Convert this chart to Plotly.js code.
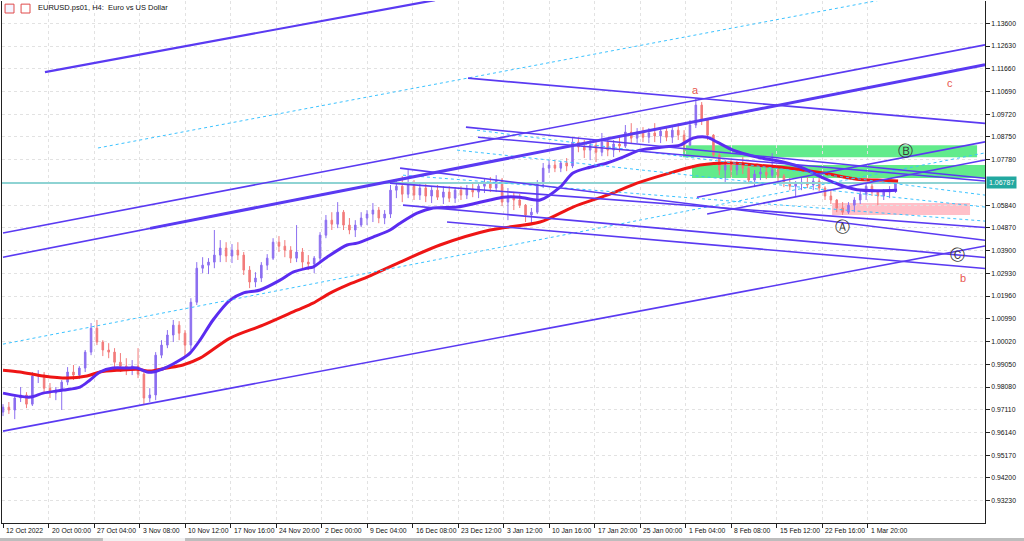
<!DOCTYPE html>
<html><head><meta charset="utf-8">
<script src="https://cdn.plot.ly/plotly-3.0.1.min.js"></script>
<style>html,body{margin:0;padding:0;background:#fff;overflow:hidden}#chart{width:1024px;height:541px}</style>
</head><body><div id="chart"></div>
<script>
// ---- data (EURUSD H4, bar index on x; one candle per 4 H4 bars) ----
const barsPerCandle = 4;
const openP = [0.9701,0.9722,0.9710,0.9761,0.9774,0.9735,0.9855,0.9859,0.9803,0.9782,0.9795,0.9829,0.9872,0.9859,0.9889,0.9957,1.0059,1.0000,0.9966,0.9957,0.9914,0.9897,0.9880,0.9897,0.9863,0.9761,0.9774,0.9944,0.9987,1.0030,1.0072,1.0038,0.9987,1.0170,1.0315,1.0328,1.0341,1.0371,1.0401,1.0367,1.0392,1.0371,1.0307,1.0256,1.0273,1.0328,1.0358,1.0426,1.0409,1.0392,1.0358,1.0384,1.0341,1.0333,1.0358,1.0456,1.0520,1.0503,1.0554,1.0499,1.0478,1.0499,1.0529,1.0546,1.0563,1.0529,1.0546,1.0648,1.0665,1.0631,1.0670,1.0627,1.0657,1.0623,1.0648,1.0618,1.0640,1.0614,1.0648,1.0627,1.0653,1.0640,1.0665,1.0678,1.0657,1.0691,1.0597,1.0623,1.0606,1.0584,1.0542,1.0554,1.0674,1.0742,1.0755,1.0742,1.0764,1.0751,1.0853,1.0832,1.0819,1.0840,1.0810,1.0853,1.0819,1.0845,1.0836,1.0896,1.0870,1.0896,1.0874,1.0892,1.0879,1.0900,1.0874,1.0904,1.0883,1.0840,1.0926,1.1011,1.0947,1.0883,1.0798,1.0734,1.0755,1.0734,1.0759,1.0742,1.0691,1.0717,1.0725,1.0712,1.0734,1.0708,1.0678,1.0665,1.0674,1.0682,1.0670,1.0687,1.0657,1.0623,1.0606,1.0572,1.0554,1.0584,1.0606,1.0631,1.0665,1.0640,1.0623,1.0640,1.0648];
const highP = [0.9735,0.9744,0.9769,0.9808,0.9786,0.9872,0.9880,0.9872,0.9825,0.9808,0.9838,0.9893,0.9902,0.9897,0.9966,1.0081,1.0094,1.0008,0.9995,0.9974,0.9953,0.9931,0.9923,0.9974,0.9872,0.9803,0.9957,1.0008,1.0051,1.0094,1.0089,1.0051,1.0187,1.0341,1.0362,1.0358,1.0478,1.0435,1.0426,1.0418,1.0426,1.0384,1.0324,1.0298,1.0341,1.0375,1.0443,1.0452,1.0435,1.0409,1.0499,1.0401,1.0371,1.0367,1.0469,1.0542,1.0554,1.0597,1.0563,1.0529,1.0520,1.0554,1.0563,1.0593,1.0576,1.0563,1.0670,1.0691,1.0708,1.0734,1.0691,1.0674,1.0674,1.0665,1.0670,1.0665,1.0665,1.0661,1.0665,1.0670,1.0678,1.0674,1.0700,1.0704,1.0712,1.0700,1.0657,1.0640,1.0631,1.0589,1.0572,1.0691,1.0764,1.0776,1.0776,1.0772,1.0785,1.0870,1.0874,1.0862,1.0862,1.0853,1.0892,1.0870,1.0862,1.0874,1.0926,1.0934,1.0913,1.0917,1.0913,1.0934,1.0917,1.0921,1.0917,1.0934,1.0904,1.0947,1.1041,1.1024,1.0956,1.0887,1.0806,1.0776,1.0776,1.0772,1.0789,1.0755,1.0734,1.0746,1.0751,1.0806,1.0742,1.0717,1.0700,1.0687,1.0700,1.0704,1.0700,1.0700,1.0665,1.0644,1.0610,1.0597,1.0597,1.0618,1.0648,1.0678,1.0691,1.0648,1.0653,1.0665,1.0687];
const lowP = [0.9684,0.9693,0.9671,0.9744,0.9718,0.9727,0.9825,0.9786,0.9761,0.9752,0.9710,0.9816,0.9838,0.9842,0.9872,0.9944,0.9987,0.9940,0.9931,0.9893,0.9872,0.9859,0.9859,0.9846,0.9731,0.9744,0.9752,0.9931,0.9974,1.0000,1.0008,0.9940,0.9966,1.0158,1.0294,1.0290,1.0315,1.0341,1.0341,1.0337,1.0350,1.0286,1.0230,1.0234,1.0256,1.0307,1.0350,1.0384,1.0362,1.0337,1.0341,1.0315,1.0307,1.0294,1.0341,1.0443,1.0478,1.0486,1.0478,1.0460,1.0448,1.0490,1.0499,1.0512,1.0507,1.0503,1.0529,1.0614,1.0597,1.0614,1.0606,1.0606,1.0597,1.0593,1.0606,1.0589,1.0597,1.0593,1.0606,1.0610,1.0618,1.0614,1.0636,1.0640,1.0640,1.0580,1.0520,1.0563,1.0572,1.0512,1.0499,1.0546,1.0657,1.0721,1.0725,1.0725,1.0729,1.0742,1.0810,1.0785,1.0776,1.0768,1.0793,1.0793,1.0789,1.0810,1.0828,1.0849,1.0849,1.0853,1.0849,1.0853,1.0849,1.0857,1.0849,1.0862,1.0810,1.0836,1.0913,1.0926,1.0862,1.0785,1.0712,1.0678,1.0704,1.0712,1.0717,1.0674,1.0661,1.0691,1.0695,1.0700,1.0687,1.0661,1.0648,1.0618,1.0648,1.0657,1.0648,1.0644,1.0606,1.0589,1.0554,1.0542,1.0546,1.0554,1.0589,1.0606,1.0623,1.0584,1.0606,1.0614,1.0636];
const closeP = [0.9722,0.9710,0.9761,0.9774,0.9735,0.9855,0.9859,0.9803,0.9782,0.9795,0.9829,0.9872,0.9859,0.9889,0.9957,1.0059,1.0000,0.9966,0.9957,0.9914,0.9897,0.9880,0.9897,0.9863,0.9761,0.9774,0.9944,0.9987,1.0030,1.0072,1.0038,0.9987,1.0170,1.0315,1.0328,1.0341,1.0371,1.0401,1.0367,1.0392,1.0371,1.0307,1.0256,1.0273,1.0328,1.0358,1.0426,1.0409,1.0392,1.0358,1.0384,1.0341,1.0333,1.0358,1.0456,1.0520,1.0503,1.0554,1.0499,1.0478,1.0499,1.0529,1.0546,1.0563,1.0529,1.0546,1.0648,1.0665,1.0631,1.0670,1.0627,1.0657,1.0623,1.0648,1.0618,1.0640,1.0614,1.0648,1.0627,1.0653,1.0640,1.0665,1.0678,1.0657,1.0691,1.0597,1.0623,1.0606,1.0584,1.0542,1.0554,1.0674,1.0742,1.0755,1.0742,1.0764,1.0751,1.0853,1.0832,1.0819,1.0840,1.0810,1.0853,1.0819,1.0845,1.0836,1.0896,1.0870,1.0896,1.0874,1.0892,1.0879,1.0900,1.0874,1.0904,1.0883,1.0840,1.0926,1.1011,1.0947,1.0883,1.0798,1.0734,1.0755,1.0734,1.0759,1.0742,1.0691,1.0717,1.0725,1.0712,1.0734,1.0708,1.0678,1.0665,1.0674,1.0682,1.0670,1.0687,1.0657,1.0623,1.0606,1.0572,1.0554,1.0584,1.0606,1.0631,1.0665,1.0640,1.0623,1.0640,1.0648,1.0678];

// moving averages (bar index, price)
const maFastBar = [0,18.4,27.3,40.9,52.5,59.3,66.1,74.9,84.5,91.3,98.1,102.2,111.7,120.6,127.4,134.2,143.1,154.7,163.5,175.1,188.7,197.6,207.1,211.2,220.7,234.4,241.2,252.1,263.7,270.5,282.1,293,309.3,322.9,331.8,340.7,352.2,365.9,379.5,388.3,399.9,411.5,422.4,434,449.7,461.2,470.1,479.7,486.5,497.3,513.7,531.4,545,558.7,570.3,581.8,595.5,609.1];
const maFast = [0.9782,0.9765,0.9782,0.9795,0.9808,0.9838,0.9872,0.9889,0.9889,0.9889,0.9872,0.9872,0.9893,0.9923,0.9953,1.0008,1.0094,1.0179,1.0209,1.0222,1.0264,1.0298,1.0315,1.0320,1.0362,1.0414,1.0422,1.0448,1.0478,1.0507,1.0550,1.0572,1.0576,1.0593,1.0606,1.0618,1.0618,1.0606,1.0661,1.0721,1.0746,1.0764,1.0789,1.0819,1.0832,1.0840,1.0870,1.0874,1.0853,1.0819,1.0789,1.0768,1.0742,1.0700,1.0670,1.0650,1.0646,1.0648];
const maSlowBar = [0,11.6,27.3,43.6,57.2,66.1,79.7,91.3,100.2,111.7,122.6,134.2,154.7,177.1,200.3,211.2,222.8,234.4,248,261.6,270.5,297.7,331.8,365.9,388.3,411.5,434,456.5,474.9,495.3,513.7,536.2,558.7,581.8,595.5,609.8];
const maSlow = [0.9880,0.9872,0.9855,0.9846,0.9855,0.9872,0.9880,0.9884,0.9876,0.9889,0.9902,0.9931,1.0017,1.0072,1.0136,1.0166,1.0209,1.0243,1.0277,1.0315,1.0341,1.0414,1.0478,1.0512,1.0576,1.0627,1.0682,1.0725,1.0755,1.0764,1.0755,1.0742,1.0721,1.0695,1.0691,1.0687];

// drawn objects: [startBar, startPrice, endBar, endPrice]
const trendLines = [
  [0,1.0465,669,1.1268],[0,1.0362,669,1.1183],[0,0.9620,669,1.0410],
  [316.8,1.1126,669,1.0933],[315.4,1.0917,669,1.0699],[323.6,1.0874,669,1.0687],
  [270.5,1.0742,669,1.0434],[263.7,1.0678,669,1.0489],[272.5,1.0584,669,1.0361],
  [302.5,1.0512,669,1.0314],[472.8,1.0618,669,1.0854],[479.7,1.0546,669,1.0777]
];
const heavyLines = [[100.2,1.0485,669,1.1183]];
const mediumLines = [[28.6,1.1152,294.3,1.1459]];
const dottedLines = [
  [64.7,1.0828,597.5,1.1459],[0,0.9991,669,1.0807],[322.9,1.0904,669,1.0627],
  [309.3,1.0819,669,1.0576],[272.5,1.0712,669,1.0516]
];
const supplyZones = [[463.3,1.0840,663.6,1.0789],[469.4,1.0755,669,1.0700]];
const demandZones = [[564.8,1.0593,658.8,1.0542]];
const lastPrice = 1.06787;
const waveText = ['a','b','c'];
const waveBar = [471.5,654,645.2];
const wavePrice = [1.1075,1.0273,1.1105];
const circText = ['Ⓐ','Ⓑ','Ⓒ'];
const circBar = [571.6,614.5,650];
const circPrice = [1.0490,1.0815,1.0371];

const tickBars = [0,31,62,93,124,155,186,217,248,279,310,341,372,403,434,465,496,527,558,589];
const tickLabels = ['12 Oct 2022','20 Oct 00:00','27 Oct 04:00','3 Nov 08:00','10 Nov 12:00','17 Nov 16:00','24 Nov 20:00','2 Dec 00:00','9 Dec 04:00','16 Dec 08:00','23 Dec 12:00','3 Jan 12:00','10 Jan 16:00','17 Jan 20:00','25 Jan 00:00','1 Feb 04:00','8 Feb 08:00','15 Feb 12:00','22 Feb 16:00','1 Mar 20:00'];
const priceTicks = [0.93230,0.94200,0.95170,0.96140,0.97110,0.98080,0.99050,1.00020,1.00990,1.01960,1.02930,1.03900,1.04870,1.05840,1.07780,1.08750,1.09720,1.10690,1.11660,1.12630,1.13600];

// ---- drawing ----
const PURPLE = '#5a3af2';
const candleBar = openP.map((_, k) => k * barsPerCandle);
const traces = [];
traces.push({
  type:'candlestick', x:candleBar, open:openP, high:highP, low:lowP, close:closeP,
  increasing:{line:{color:'#8c6ff0',width:1}, fillcolor:'#8c6ff0'},
  decreasing:{line:{color:'#f27b7b',width:1}, fillcolor:'#f27b7b'},
  whiskerwidth:0, hoverinfo:'skip'
});
traces.push({type:'scatter', mode:'lines', x:[-5,700], y:[lastPrice,lastPrice], line:{color:'#8ed3d3',width:2}, hoverinfo:'skip'});
traces.push({type:'scatter', mode:'lines', x:maSlowBar, y:maSlow, line:{color:'#ee1515',width:3,shape:'spline',smoothing:0.8}, hoverinfo:'skip'});
traces.push({type:'scatter', mode:'lines', x:maFastBar, y:maFast, line:{color:'#5a2cf0',width:3,shape:'spline',smoothing:0.8}, hoverinfo:'skip'});
dottedLines.forEach(l => traces.push({type:'scatter',mode:'lines',x:[l[0],l[2]],y:[l[1],l[3]],line:{color:'#3cc3ff',width:1,dash:'dot'},hoverinfo:'skip'}));
trendLines.forEach(l => traces.push({type:'scatter',mode:'lines',x:[l[0],l[2]],y:[l[1],l[3]],line:{color:PURPLE,width:1.6},hoverinfo:'skip'}));
mediumLines.forEach(l => traces.push({type:'scatter',mode:'lines',x:[l[0],l[2]],y:[l[1],l[3]],line:{color:PURPLE,width:2.2},hoverinfo:'skip'}));
heavyLines.forEach(l => traces.push({type:'scatter',mode:'lines',x:[l[0],l[2]],y:[l[1],l[3]],line:{color:PURPLE,width:3},hoverinfo:'skip'}));

const shapes = [];
supplyZones.forEach(z => shapes.push({type:'rect',xref:'x',yref:'y',x0:z[0],y0:z[1],x1:z[2],y1:z[3],fillcolor:'rgba(70,232,120,0.85)',line:{width:0},layer:'below'}));
demandZones.forEach(z => shapes.push({type:'rect',xref:'x',yref:'y',x0:z[0],y0:z[1],x1:z[2],y1:z[3],fillcolor:'rgba(255,185,195,0.9)',line:{width:0},layer:'below'}));
// window furniture: header icons and bottom tab strip
shapes.push({type:'rect',xref:'paper',yref:'paper',x0:0.0031,x1:0.0122,y0:0.977,y1:0.994,fillcolor:'#f4f4ff',line:{color:'#e04a4a',width:1}});
shapes.push({type:'rect',xref:'paper',yref:'paper',x0:0.0194,x1:0.0285,y0:0.977,y1:0.994,fillcolor:'#ffffff',line:{color:'#e04a4a',width:1}});
shapes.push({type:'rect',xref:'paper',yref:'paper',x0:-0.003,x1:1.04,y0:-0.0345,y1:-0.0285,fillcolor:'#bdbdbd',line:{width:0}});
shapes.push({type:'rect',xref:'paper',yref:'paper',x0:0.1027,x1:0.1862,y0:-0.0345,y1:-0.0285,fillcolor:'#f2f2f2',line:{width:0}});

const FONT = 'Liberation Sans, Arial, sans-serif';
const annotations = [];
tickBars.forEach((b,i) => annotations.push({x:b, xref:'x', y:-0.0135, yref:'paper', text:tickLabels[i], showarrow:false, xanchor:'left', yanchor:'middle', xshift:1, font:{family:FONT,size:6.8,color:'#111'}}));
waveText.forEach((t,i) => annotations.push({x:waveBar[i], y:wavePrice[i], xref:'x', yref:'y', text:t, showarrow:false, font:{family:FONT,size:11,color:'#e8584f'}}));
circText.forEach((t,i) => annotations.push({x:circBar[i], y:circPrice[i], xref:'x', yref:'y', text:t, showarrow:false, font:{family:'DejaVu Sans',size:15,color:'#3a3a3a'}}));
annotations.push({x:0.0346, y:0.9866, xref:'paper', yref:'paper', text:'EURUSD.ps01, H4:  Euro vs US Dollar', showarrow:false, xanchor:'left', yanchor:'middle', font:{family:FONT,size:7.5,color:'#111'}});
annotations.push({x:1, y:lastPrice, xref:'paper', yref:'y', text:lastPrice.toFixed(5), showarrow:false, xanchor:'left', yanchor:'middle', xshift:1, bgcolor:'#22a8a0', borderpad:2, font:{family:FONT,size:7,color:'#ffffff'}});

const layout = {
  width:1024, height:541, margin:{l:2,r:39,t:1,b:18},
  paper_bgcolor:'#ffffff', plot_bgcolor:'#ffffff', showlegend:false, boxgap:0.62,
  xaxis:{range:[-0.68,669.0], rangeslider:{visible:false}, tickvals:tickBars, ticktext:tickBars.map(()=> ''),
         ticks:'outside', ticklen:4, tickcolor:'#222', showline:true, linecolor:'#222', linewidth:1, mirror:false,
         showgrid:true, gridcolor:'#e2e2e2', griddash:'dot', zeroline:false, fixedrange:true},
  yaxis:{range:[0.92278,1.14552], side:'right', tickvals:priceTicks, ticktext:priceTicks.map(v=>v.toFixed(5)),
         ticks:'outside', ticklen:4, tickcolor:'#222', showline:true, linecolor:'#222', linewidth:1, mirror:true,
         showgrid:true, gridcolor:'#e2e2e2', griddash:'dot', zeroline:false, tickfont:{family:FONT,size:6.8,color:'#111'}, fixedrange:true},
  shapes:shapes, annotations:annotations
};
Plotly.newPlot('chart', traces, layout, {displayModeBar:false, staticPlot:true});
</script></body></html>
